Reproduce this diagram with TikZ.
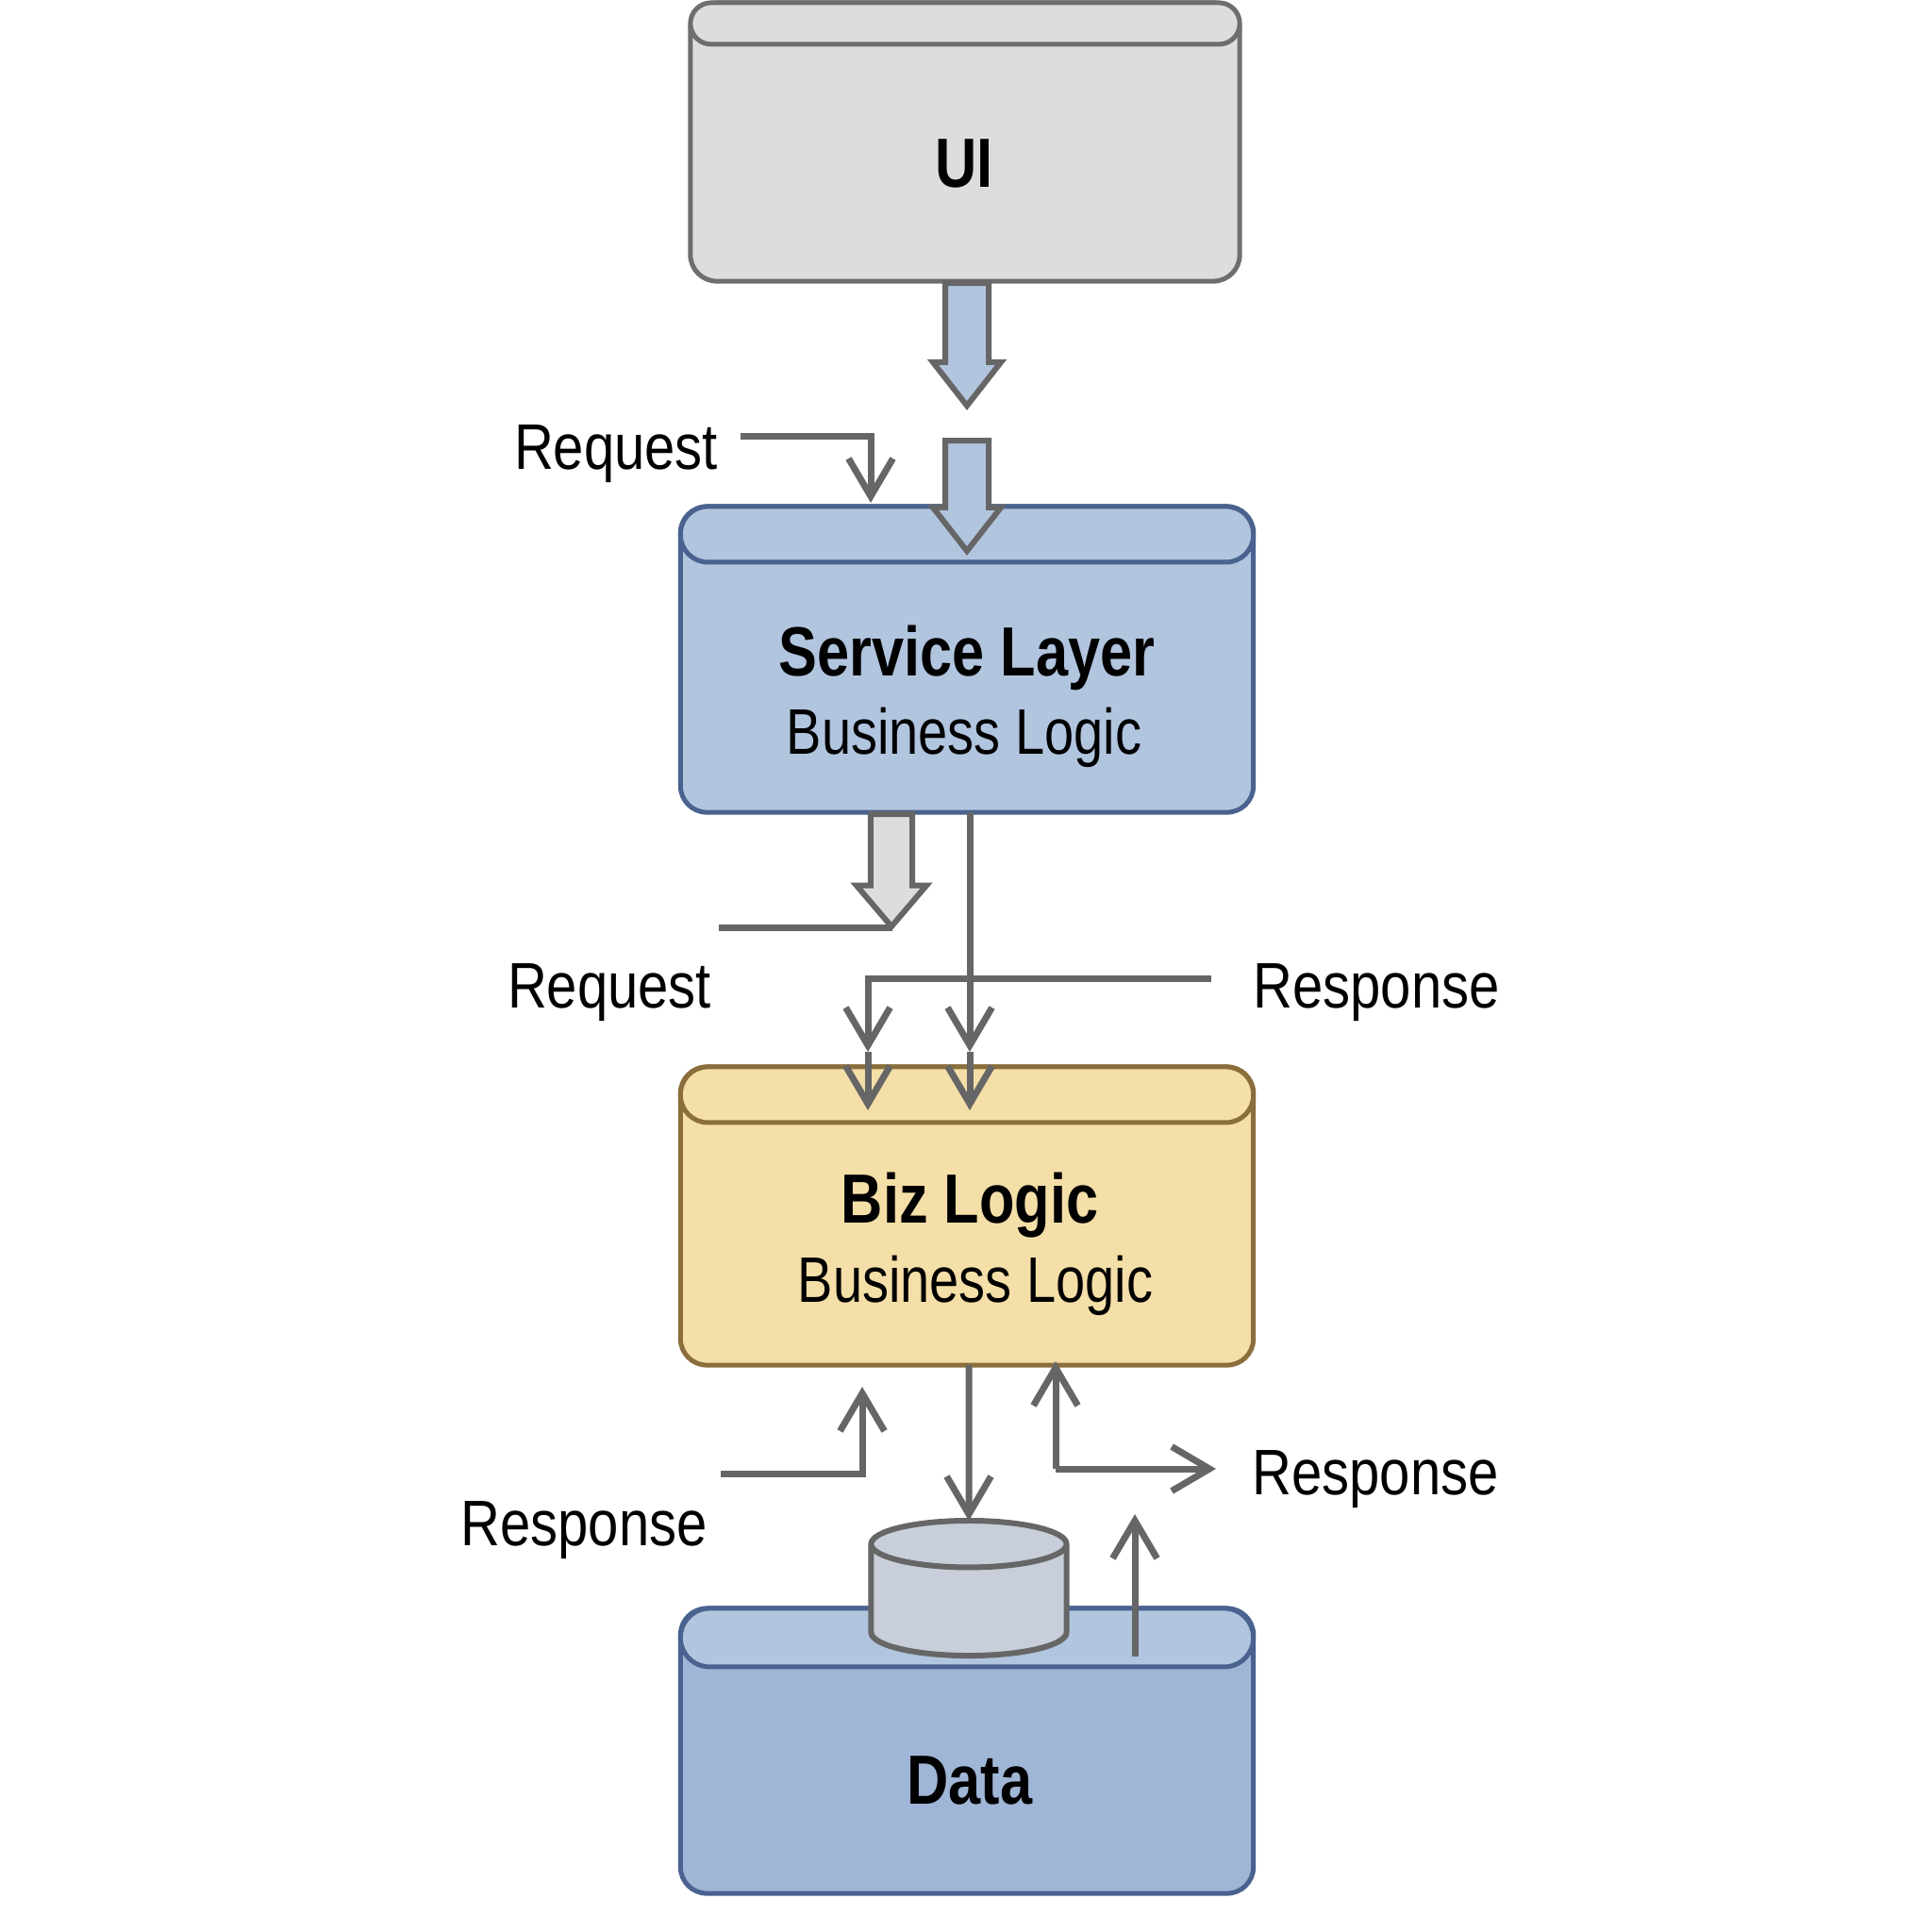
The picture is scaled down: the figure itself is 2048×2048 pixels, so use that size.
\documentclass[tikz,border=0pt]{standalone}
\usepackage{fontspec}
\setmainfont{Liberation Sans}
\newfontfamily\narrowfont[FakeStretch=0.85]{Liberation Sans}
\newfontfamily\boldfont[FakeStretch=0.83]{Liberation Sans}
\newfontfamily\subfont[FakeStretch=0.82]{Liberation Sans}
\usetikzlibrary{arrows.meta,positioning,shapes.arrows,shapes.geometric}
\definecolor{uifill}{HTML}{DDDDDD}
\definecolor{uiline}{HTML}{6E6E6E}
\definecolor{svcfill}{HTML}{B2C5DF}
\definecolor{svcline}{HTML}{4A628F}
\definecolor{bizfill}{HTML}{F5DFA8}
\definecolor{bizline}{HTML}{8A6E3C}
\definecolor{datafill}{HTML}{A0B6D6}
\definecolor{dbfill}{HTML}{C8CFDA}
\definecolor{flowgrey}{HTML}{666666}
\tikzset{
    layer/.style={rectangle,draw,line width=0.5mm,outer sep=0pt,inner sep=0pt,minimum width=6.07cm,rounded corners=0.28cm},
    layer head/.style={rectangle,draw,line width=0.5mm,outer sep=0pt,inner sep=0pt,minimum width=6.07cm,minimum height=0.59cm,rounded corners=0.29cm},
    block arrow/.style={single arrow,shape border rotate=270,anchor=tail,draw=flowgrey,line width=0.6mm,inner sep=0.2cm,outer sep=0pt,single arrow head extend=0.13cm,single arrow tip angle=76},
    flow/.style={draw=flowgrey,line width=0.7mm},
    title/.style={anchor=base,font=\boldfont\fontsize{21}{24}\selectfont\bfseries},
    caption/.style={anchor=base,font=\narrowfont\fontsize{19.4}{23}\selectfont},
    subcaption/.style={anchor=base,font=\subfont\fontsize{19.4}{23}\selectfont},
}

\begin{document}
\begin{tikzpicture}[x=0.01cm,y=-0.01cm,>={Straight Barb[length=4mm,width=4.7mm]}]
        \useasboundingbox (0,0) rectangle (2048,2048);

        % layers
        \node[layer,fill=uifill,draw=uiline,minimum width=5.82cm,minimum height=2.95cm] (ui) at (1023,150.5) {};
        \node[layer head,fill=uifill,draw=uiline,minimum width=5.82cm,minimum height=0.44cm,rounded corners=0.22cm] (uihead) [below=0pt of ui.north] {};
        \node[layer,fill=svcfill,draw=svcline,minimum height=3.24cm] (svc) at (1025,699) {};
        \node[layer head,fill=svcfill,draw=svcline] (svchead) [below=0pt of svc.north] {};
        \node[layer,fill=bizfill,draw=bizline,minimum height=3.16cm] (biz) at (1025,1289) {};
        \node[layer head,fill=bizfill,draw=bizline] (bizhead) [below=0pt of biz.north] {};
        \node[layer,fill=datafill,draw=svcline,minimum height=3.02cm] (data) at (1025,1856) {};
        \node[layer head,fill=svcfill,draw=svcline,minimum height=0.62cm,rounded corners=0.31cm] (datahead) [below=0pt of data.north] {};
        \node[cylinder,shape border rotate=90,aspect=0.24,anchor=shape center,draw=flowgrey,fill=dbfill,line width=0.6mm,inner xsep=1.03cm,inner ysep=0pt,outer sep=0pt,minimum width=2.07cm,minimum height=1.43cm] (db) at (1027,1683.5) {};

        % texts
        \node[title] (uititle) at (1022,198) {UI};
        \node[title] (svctitle) at (1025,716) {Service Layer};
        \node[subcaption] (svcsub) at (1022,799) {Business Logic};
        \node[title] (biztitle) at (1028,1296) {Biz Logic};
        \node[subcaption] (bizsub) at (1034,1380) {Business Logic};
        \node[title] (datatitle) at (1028,1912) {Data};
        \node[caption] (rq1) at (653,497) {Request};
        \node[caption] (rq2) at (646,1068) {Request};
        \node[caption] (rs1) at (1459,1068) {Response};
        \node[caption] (rs2) at (619,1638) {Response};
        \node[caption] (rs3) at (1458,1584) {Response};

        % block arrows
        \node[block arrow,fill=svcfill,minimum height=1.30cm] (uiout) at (1025,300) {};
        \node[block arrow,fill=svcfill,minimum height=1.17cm] (svcin) at (1025,467) {};
        \node[block arrow,fill=uifill,minimum height=1.19cm,inner sep=0.19cm,single arrow head extend=0.15cm,single arrow tip angle=81] (svcout) at (945,863) {};

        % free ends
        \coordinate (rq1a) at (785,462);
        \coordinate (rq1b) at (923,533);
        \coordinate (rq2a) at (762,983);
        \coordinate (rq2b) at (946,983);
        \coordinate (svcb) at (1028,861);
        \coordinate (mid1) at (1028,1115);
        \coordinate (end1) at (1028,1177);
        \coordinate (rs1a) at (1284,1037);
        \coordinate (mid2) at (920,1115);
        \coordinate (end2) at (920,1177);
        \coordinate (rs2a) at (764,1562);
        \coordinate (rs2b) at (914,1470);
        \coordinate (bizb) at (1027,1447);
        \coordinate (rs3a) at (1119,1557);
        \coordinate (rs3b) at (1119,1443);
        \coordinate (rs3c) at (1289,1557);
        \coordinate (upa) at (1203,1756);
        \coordinate (upb) at (1203,1605);

        % connectors
        \draw[flow,->] (rq1a) -| (rq1b);
        \draw[flow] (rq2a) -- (rq2b);
        \draw[flow,->] (svcb) -- (mid1);
        \draw[flow,->] (mid1) -- (end1);
        \draw[flow,->] (rs1a) -| (mid2);
        \draw[flow,->] (mid2) -- (end2);
        \draw[flow,->] (rs2a) -| (rs2b);
        \draw[flow,->] (bizb) -- (db.north);
        \draw[flow,->] (rs3a) -- (rs3b);
        \draw[flow,->] (rs3a) -- (rs3c);
        \draw[flow,->] (upa) -- (upb);
\end{tikzpicture}
\end{document}
